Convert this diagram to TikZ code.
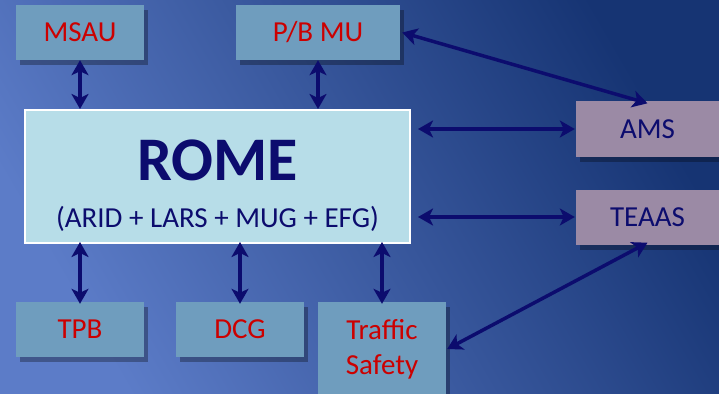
\documentclass[tikz,border=0pt]{standalone}
\usepackage{xcolor}
\usepackage{fontspec}
\setmainfont{Carlito}
\usepackage{tikz}
\usetikzlibrary{shapes,arrows.meta,positioning,shadows}

\definecolor{bgdark}{RGB}{22,52,115}
\definecolor{bglight}{RGB}{92,124,200}
\definecolor{unitblue}{RGB}{111,157,190}
\definecolor{unitmauve}{RGB}{155,138,165}
\definecolor{romefill}{RGB}{183,221,232}
\definecolor{unitred}{RGB}{204,0,0}
\definecolor{navy}{RGB}{12,12,110}

\begin{document}
\begin{tikzpicture}[x=1pt,y=-1pt,
      unit/.style={fill=unitblue, minimum width=128pt, minimum height=55pt,
        inner sep=0pt, text=unitred, font=\fontsize{29}{33}\selectfont,
        drop shadow={shadow xshift=4pt, shadow yshift=-5pt, opacity=.3, fill=black}},
      ext/.style={unit, fill=unitmauve, text=navy, minimum width=143pt},
      link/.style={draw=navy, line width=3.5pt, {Stealth[length=15pt,width=17pt,inset=4pt]}-{Stealth[length=15pt,width=17pt,inset=4pt]}}]
      % background
      \useasboundingbox (0,0) rectangle (719,393);
      \clip (0,0) rectangle (719,393);
      \shade[left color=bglight, right color=bgdark, shading angle=120] (0,0) rectangle (719,393);
      % central system
      \node[fill=romefill, draw=white, line width=2pt, minimum width=385pt, minimum height=133pt] (rome) at (217.5,176.5) {};
      \node[anchor=base, text=navy, font=\fontsize{62}{62}\selectfont\bfseries] (title) at (217.5,180) {ROME};
      \node[anchor=base, text=navy, font=\fontsize{29}{33}\selectfont] (members) at (217.5,227) {(ARID + LARS + MUG + EFG)};
      % units
      \node[unit] (msau) at (80,32.5) {MSAU};
      \node[unit, minimum width=164pt] (pbmu) at (318,32.5) {P/B MU};
      \node[unit] (tpb) at (80,329.5) {TPB};
      \node[unit] (dcg) at (240,329.5) {DCG};
      \node[unit, minimum height=94pt, align=center, font=\fontsize{29}{35}\selectfont] (traffic) at (382,349) {Traffic\\Safety};
      \node[ext] (ams) at (647.5,129) {AMS};
      \node[ext] (teaas) at (647.5,217) {TEAAS};
      % links
      \draw[link] (msau.south) -- (msau.south |- rome.north);
      \draw[link] (pbmu.south) -- (pbmu.south |- rome.north);
      \draw[link] ([yshift=2pt]tpb.north |- rome.south) -- ([yshift=-2pt]tpb.north);
      \draw[link] ([yshift=2pt]dcg.north |- rome.south) -- ([yshift=-2pt]dcg.north);
      \draw[link] ([yshift=2pt]traffic.north |- rome.south) -- ([yshift=-2pt]traffic.north);
      \draw[link] ([xshift=7pt]rome.east |- ams.west) -- ([xshift=-1pt]ams.west);
      \draw[link] ([xshift=7pt]rome.east |- teaas.west) -- ([xshift=-1pt]teaas.west);
      \draw[link] ([xshift=2pt]pbmu.east) -- ([yshift=-2pt]ams.north);
      \draw[link] ([yshift=2pt]teaas.south) -- ([xshift=1pt]traffic.east);
\end{tikzpicture}
\end{document}
